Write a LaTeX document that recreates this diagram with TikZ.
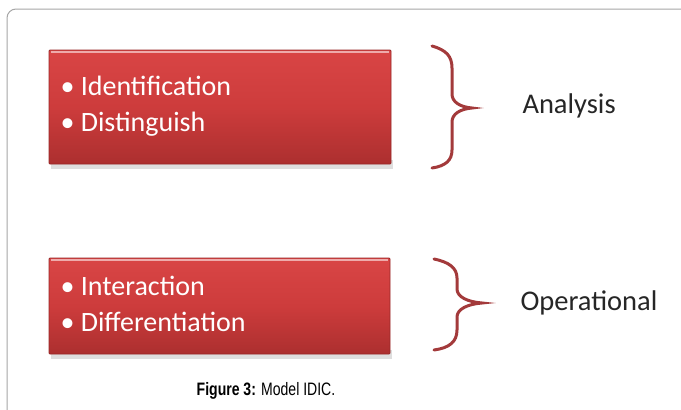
\documentclass[tikz,border=0pt]{standalone}
\usepackage{fontspec}
\setmainfont{Carlito}
\newfontfamily\capfont{Liberation Sans}
\begin{document}
\begin{tikzpicture}[x=1pt,y=-1pt,
  redbox/.style={inner sep=0pt, outer sep=0pt, rounded corners=1pt,
    top color=redtop, bottom color=redbot, middle color=redmid,
    draw=redline, line width=0.8pt},
  boxtext/.style={text=white, font=\fontsize{28}{36}\selectfont, anchor=west, align=left},
  bracestyle/.style={draw=bracered, line width=3pt, line cap=round},
  label/.style={font=\fontsize{28.5}{32}\selectfont, text=black!85, anchor=west}]
\definecolor{redtop}{HTML}{D94545}
\definecolor{redmid}{HTML}{CD3C3C}
\definecolor{redbot}{HTML}{AC2F2F}
\definecolor{redline}{HTML}{982929}
\definecolor{bracered}{HTML}{A33A3B}
\useasboundingbox (0,0) rectangle (681,410);
\fill[white] (0,0) rectangle (681,410);
% frame
\draw[gray!70, line width=1pt, rounded corners=9pt] (7,412) -- (7,9) -- (683,9);
% shadows
\fill[black!25, opacity=0.5] (51,160) rectangle (393,169);
\fill[black!25, opacity=0.5] (51,350) rectangle (392,359);
% boxes
\node[redbox, minimum width=342pt, minimum height=114pt, anchor=north west] (b1) at (49,50) {};
\node[redbox, minimum width=341pt, minimum height=96pt, anchor=north west] (b2) at (49,258) {};
\draw[white!55!redtop, line width=2pt] ([xshift=2pt,yshift=-2pt]b1.north west) -- ([xshift=-2pt,yshift=-2pt]b1.north east);
\draw[white!55!redtop, line width=2pt] ([xshift=2pt,yshift=-2pt]b2.north west) -- ([xshift=-2pt,yshift=-2pt]b2.north east);
\node[boxtext] (t1) at (57,106) {• Identification\\• Distinguish};
\node[boxtext] (t2) at (57,304) {• Interaction\\• Differentiation};
% braces
\coordinate (br1) at (472,108);
\coordinate (br2) at (482,303);
\draw[bracestyle] (432,46) .. controls (446,50) and (452,56) .. (452,68)
  -- (452,94) .. controls (452,102) and (460,107) .. (br1)
  .. controls (460,109) and (452,114) .. (452,122)
  -- (452,150) .. controls (452,160) and (446,166) .. (432,168);
\draw[bracestyle] (434,259) .. controls (449,262) and (457,268) .. (457,278)
  -- (457,289) .. controls (457,297) and (468,302) .. (br2)
  .. controls (468,304) and (457,309) .. (457,317)
  -- (457,330) .. controls (457,342) and (449,348) .. (434,350);
\node[label] (l1) at (519,106) {Analysis};
\node[label] (l2) at (517,303) {Operational};
\node[font=\capfont\fontsize{18}{20}\selectfont, xscale=0.78, transform shape] (cap) at (266,391) {\textbf{Figure 3:} Model IDIC.};
\end{tikzpicture}
\end{document}
